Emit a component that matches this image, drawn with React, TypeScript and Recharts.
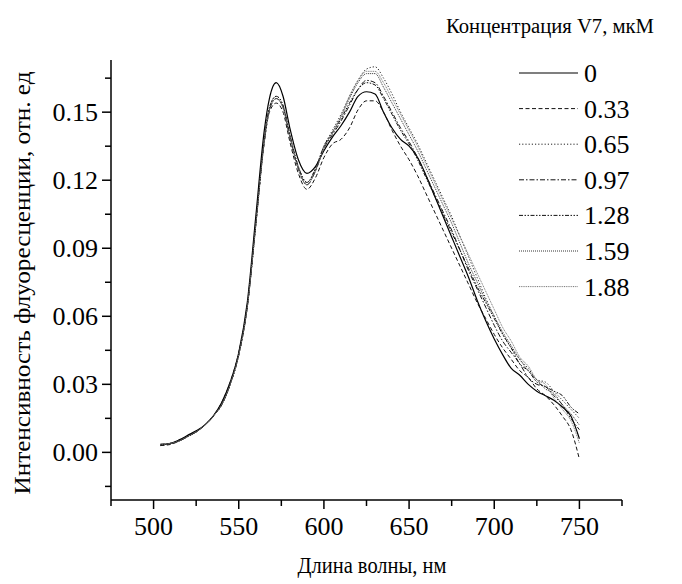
import React from 'react';
import { LineChart, Line, XAxis, YAxis } from 'recharts';

const FONT = '"Liberation Serif", "Times New Roman", serif';

// длина волны, нм
const wavelengths = [
  504, 510, 515, 520, 525, 530, 535, 540, 545, 550,
  555, 560, 565, 568, 572, 576, 580, 585, 590, 595,
  600, 605, 610, 615, 620, 625, 630, 635, 640, 645,
  650, 655, 660, 665, 670, 675, 680, 685, 690, 695,
  700, 705, 710, 715, 720, 725, 730, 735, 740, 745, 750,
];

// интенсивность при разных концентрациях V7
const c000 = [
  0.0035, 0.004, 0.0055, 0.0075, 0.0095, 0.012, 0.016, 0.022, 0.031, 0.044,
  0.066, 0.104, 0.142, 0.156, 0.163, 0.157, 0.143, 0.129, 0.123, 0.126,
  0.133, 0.139, 0.144, 0.150, 0.157, 0.159, 0.158, 0.150, 0.143, 0.138,
  0.135, 0.130, 0.122, 0.113, 0.104, 0.095, 0.086, 0.077, 0.067, 0.058,
  0.050, 0.043, 0.037, 0.034, 0.030, 0.027, 0.025, 0.023, 0.020, 0.016, 0.006,
];
const c033 = [
  0.003, 0.0035, 0.005, 0.007, 0.009, 0.012, 0.016, 0.022, 0.031, 0.044,
  0.065, 0.101, 0.137, 0.150, 0.154, 0.150, 0.137, 0.123, 0.116, 0.121,
  0.130, 0.136, 0.138, 0.143, 0.151, 0.155, 0.155, 0.150, 0.142, 0.135,
  0.129, 0.122, 0.114, 0.106, 0.098, 0.090, 0.082, 0.074, 0.066, 0.059,
  0.052, 0.046, 0.041, 0.036, 0.033, 0.028, 0.025, 0.021, 0.016, 0.010, -0.003,
];
const c065 = [
  0.0035, 0.004, 0.005, 0.007, 0.009, 0.012, 0.016, 0.021, 0.030, 0.043,
  0.064, 0.100, 0.138, 0.152, 0.157, 0.153, 0.140, 0.126, 0.119, 0.125,
  0.135, 0.142, 0.149, 0.157, 0.164, 0.169, 0.170, 0.165, 0.158, 0.150,
  0.143, 0.136, 0.128, 0.120, 0.112, 0.104, 0.095, 0.086, 0.077, 0.068,
  0.060, 0.052, 0.046, 0.041, 0.037, 0.032, 0.031, 0.027, 0.023, 0.019, 0.015,
];
const c097 = [
  0.003, 0.004, 0.005, 0.007, 0.009, 0.012, 0.016, 0.021, 0.030, 0.043,
  0.064, 0.100, 0.137, 0.151, 0.156, 0.152, 0.139, 0.125, 0.118, 0.124,
  0.134, 0.140, 0.146, 0.153, 0.160, 0.164, 0.163, 0.157, 0.150, 0.143,
  0.137, 0.130, 0.122, 0.114, 0.106, 0.098, 0.089, 0.080, 0.072, 0.064,
  0.056, 0.049, 0.044, 0.039, 0.033, 0.030, 0.029, 0.025, 0.021, 0.015, 0.010,
];
const c128 = [
  0.0035, 0.004, 0.005, 0.007, 0.009, 0.012, 0.016, 0.021, 0.030, 0.043,
  0.064, 0.101, 0.138, 0.152, 0.157, 0.153, 0.140, 0.126, 0.119, 0.125,
  0.135, 0.141, 0.147, 0.154, 0.160, 0.163, 0.162, 0.156, 0.149, 0.142,
  0.136, 0.129, 0.121, 0.113, 0.105, 0.097, 0.089, 0.081, 0.073, 0.066,
  0.059, 0.052, 0.046, 0.039, 0.036, 0.031, 0.029, 0.027, 0.025, 0.020, 0.017,
];
const c159 = [
  0.003, 0.004, 0.005, 0.007, 0.009, 0.012, 0.016, 0.021, 0.030, 0.043,
  0.064, 0.100, 0.137, 0.151, 0.156, 0.152, 0.139, 0.125, 0.118, 0.124,
  0.134, 0.141, 0.148, 0.156, 0.163, 0.167, 0.167, 0.161, 0.154, 0.147,
  0.140, 0.133, 0.125, 0.117, 0.109, 0.101, 0.092, 0.083, 0.075, 0.067,
  0.060, 0.053, 0.047, 0.041, 0.036, 0.032, 0.028, 0.026, 0.021, 0.017, 0.012,
];
const c188 = [
  0.0035, 0.004, 0.005, 0.007, 0.009, 0.012, 0.016, 0.021, 0.030, 0.043,
  0.064, 0.100, 0.137, 0.151, 0.156, 0.152, 0.139, 0.125, 0.118, 0.124,
  0.134, 0.141, 0.148, 0.157, 0.164, 0.168, 0.168, 0.163, 0.156, 0.149,
  0.142, 0.135, 0.127, 0.119, 0.111, 0.103, 0.095, 0.087, 0.079, 0.071,
  0.063, 0.055, 0.049, 0.042, 0.038, 0.032, 0.030, 0.024, 0.019, 0.014, 0.004,
];

const xTicks = [475, 500, 525, 550, 575, 600, 625, 650, 675, 700, 725, 750, 775];
const yTicks = [-0.015, 0, 0.015, 0.03, 0.045, 0.06, 0.075, 0.09, 0.105, 0.12, 0.135, 0.15, 0.165];

const SERIES = [
  { key: 'c000', name: '0', values: c000, color: '#000', dash: undefined, width: 1.2 },
  { key: 'c033', name: '0.33', values: c033, color: '#111', dash: '4 2.5', width: 1 },
  { key: 'c065', name: '0.65', values: c065, color: '#222', dash: '1.2 2', width: 1 },
  { key: 'c097', name: '0.97', values: c097, color: '#111', dash: '5 2 1.5 2', width: 1 },
  { key: 'c128', name: '1.28', values: c128, color: '#111', dash: '4 1.5 1.5 1.5 1.5 1.5', width: 1 },
  { key: 'c159', name: '1.59', values: c159, color: '#333', dash: '1 1', width: 1 },
  { key: 'c188', name: '1.88', values: c188, color: '#777', dash: '1 0.8', width: 1 },
];

const data = wavelengths.map((nm, i) => {
  const row: Record<string, number> = { nm };
  SERIES.forEach(s => { row[s.key] = s.values[i]; });
  return row;
});

function XTick({ x, y, payload }: any) {
  const major = payload.value % 50 === 0;
  return (
    <g>
      <line x1={x} y1={y} x2={x} y2={y + (major ? 9 : 6)} stroke="#000" strokeWidth={1.5} />
      {major && payload.value >= 500 && payload.value <= 750 && (
        <text x={x} y={y + 35} textAnchor="middle" fontFamily={FONT} fontSize={26} fill="#000">
          {payload.value}
        </text>
      )}
    </g>
  );
}

function YTick({ x, y, payload }: any) {
  const v = payload.value;
  const major = Math.abs(Math.round(v / 0.03) * 0.03 - v) < 1e-6 && v >= 0;
  return (
    <g>
      <line x1={x} y1={y} x2={x - (major ? 9 : 6)} y2={y} stroke="#000" strokeWidth={1.5} />
      {major && (
        <text x={x - 13} y={y + 9} textAnchor="end" fontFamily={FONT} fontSize={26} fill="#000">
          {v.toFixed(2)}
        </text>
      )}
    </g>
  );
}

export default function App() {
  return (
    <div style={{ position: 'absolute', left: 0, top: 0, width: 682, height: 584, background: '#fff' }}>
      <LineChart width={682} height={584} data={data} margin={{ top: 60, right: 60, bottom: 44, left: 0 }}>
        <XAxis
          dataKey="nm"
          type="number"
          domain={[475, 775]}
          ticks={xTicks}
          interval={0}
          height={40}
          tickSize={0}
          tickMargin={0}
          tickLine={false}
          tick={<XTick />}
          axisLine={{ stroke: '#000', strokeWidth: 1.5 }}
        />
        <YAxis
          type="number"
          domain={[-0.021, 0.173]}
          ticks={yTicks}
          interval={0}
          width={111}
          tickSize={0}
          tickMargin={0}
          tickLine={false}
          tick={<YTick />}
          axisLine={{ stroke: '#000', strokeWidth: 1.5 }}
        />
        {SERIES.map(s => (
          <Line
            key={s.key}
            dataKey={s.key}
            name={s.name}
            type="monotone"
            stroke={s.color}
            strokeWidth={s.width}
            strokeDasharray={s.dash}
            dot={false}
            isAnimationActive={false}
          />
        ))}
      </LineChart>
      <svg width={682} height={584} style={{ position: 'absolute', left: 0, top: 0, pointerEvents: 'none' }}>
        {SERIES.map((s, i) => {
          const cy = 73 + i * 35.6;
          return (
            <g key={s.key}>
              <line x1={519} y1={cy} x2={578} y2={cy} stroke={s.color} strokeWidth={s.width} strokeDasharray={s.dash} />
              <text x={584} y={cy + 9} fontFamily={FONT} fontSize={26} fill="#000">{s.name}</text>
            </g>
          );
        })}
        <text
          x={550}
          y={33}
          textAnchor="middle"
          fontFamily={FONT}
          fontSize={20}
          textLength={208}
          lengthAdjust="spacingAndGlyphs"
          fill="#000"
        >
          Концентрация V7, мкМ
        </text>
        <text
          x={372}
          y={573}
          textAnchor="middle"
          fontFamily={FONT}
          fontSize={23}
          textLength={149}
          lengthAdjust="spacingAndGlyphs"
          fill="#000"
        >
          Длина волны, нм
        </text>
        <text
          transform="translate(30, 283) rotate(-90)"
          textAnchor="middle"
          fontFamily={FONT}
          fontSize={24}
          textLength={423}
          lengthAdjust="spacingAndGlyphs"
          fill="#000"
        >
          Интенсивность флуоресценции, отн. ед
        </text>
      </svg>
    </div>
  );
}
